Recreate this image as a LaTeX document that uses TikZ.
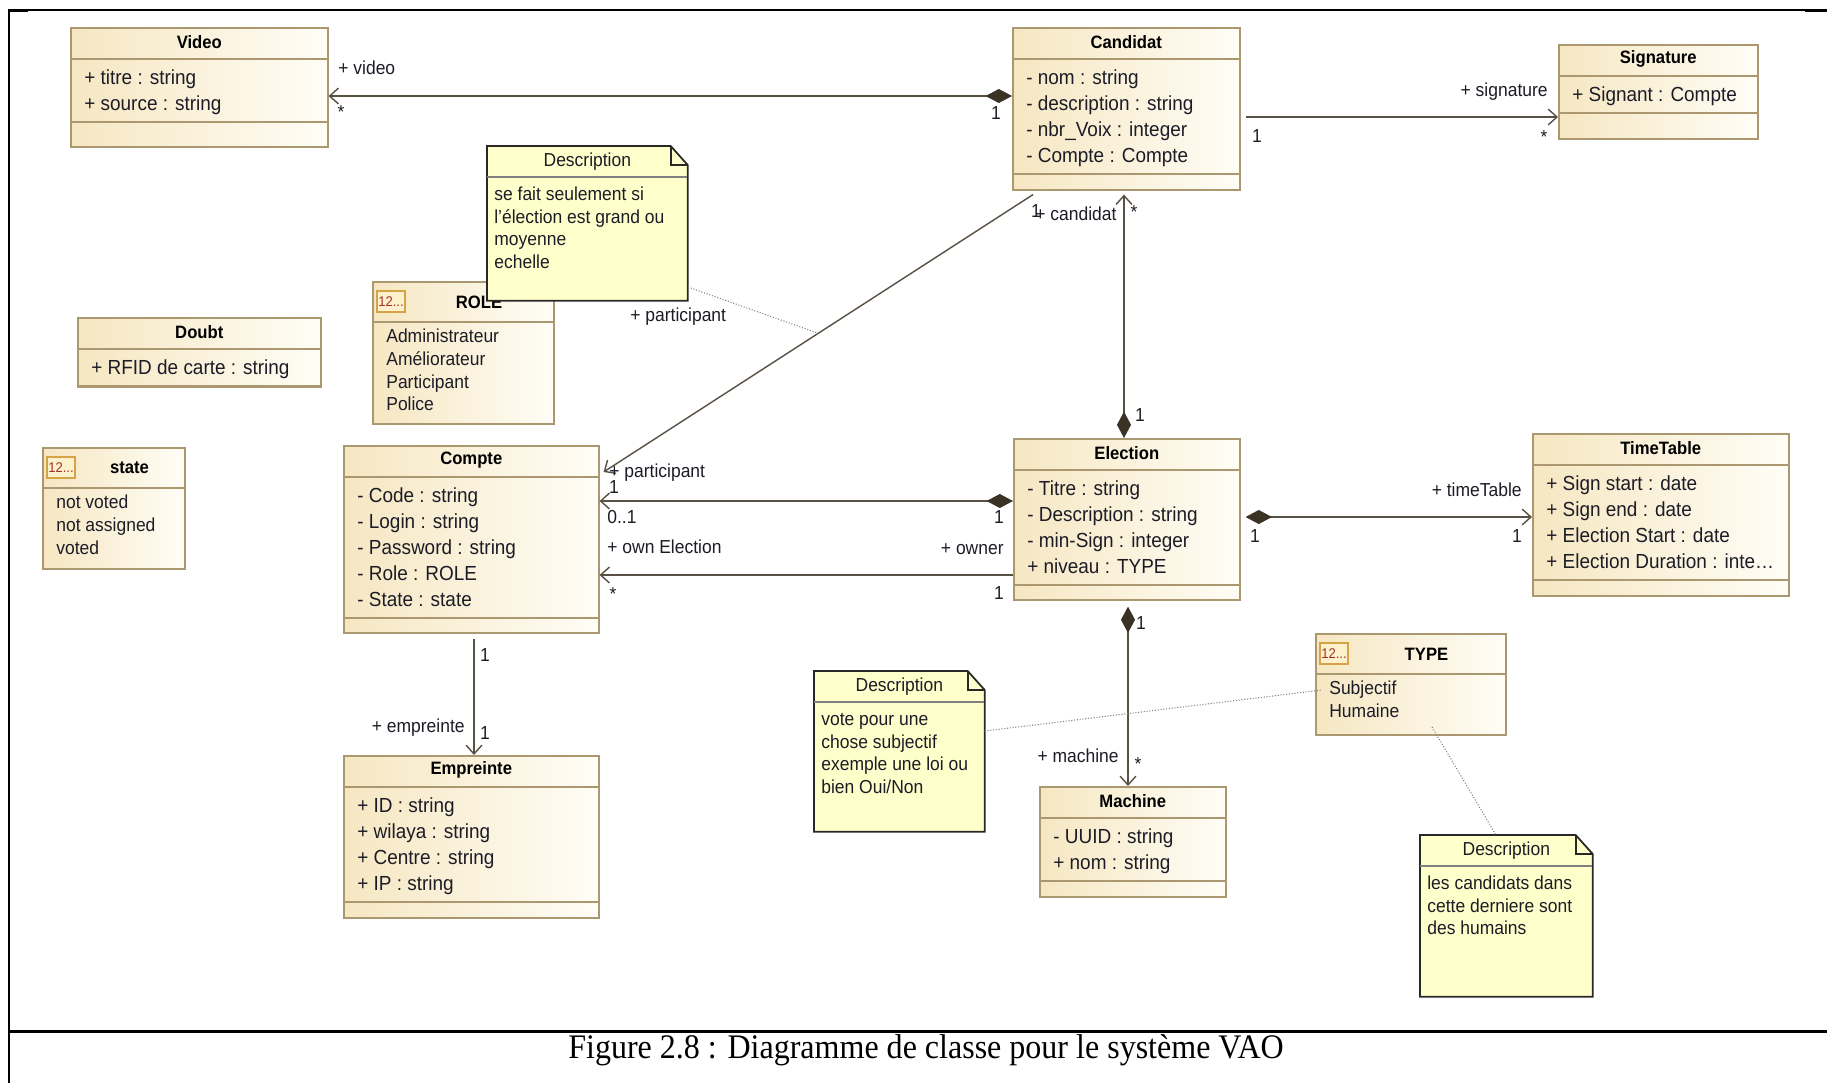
\documentclass[tikz,border=0pt]{standalone}
\usepackage{fontspec}
\setmainfont[FakeStretch=0.93]{Liberation Sans}
\newfontfamily\captionfont[FakeStretch=0.93]{Liberation Serif}
\usetikzlibrary{arrows.meta,calc,shadows}

\definecolor{classleft}{RGB}{246,231,194}
\definecolor{classright}{RGB}{255,253,246}
\definecolor{classborder}{RGB}{172,152,112}
\definecolor{notefill}{RGB}{255,255,204}
\definecolor{noteborder}{RGB}{40,40,40}
\definecolor{linkcolor}{RGB}{88,80,66}
\definecolor{diamondcolor}{RGB}{58,50,35}
\definecolor{textcolor}{RGB}{28,28,38}
\definecolor{iconborder}{RGB}{214,164,70}
\definecolor{iconfill}{RGB}{253,240,205}
\definecolor{icontext}{RGB}{160,50,40}

\newcommand{\umlclass}[8]{%
  \node[classbox, boxsize={#4}{#5}] (#1) at (#2,#3) {};
  \draw[classline] ($(#1.north west)+(0,32)$) -- ++(#4,0);
  \draw[classline] ($(#1.north west)+(0,43+26*#7)$) -- ++(#4,0);
  \node[classtitle] (#1-title) at ($(#1.north)+(0,15)$) {#6};
  \foreach \attr [count=\i from 0] in {#8}
    \node[attr] (#1-attr\i) at ($(#1.north west)+(14,53+25.8*\i)$) {\attr};
}
\newcommand{\umlenum}[7]{%
  \node[classbox, boxsize={#4}{#5}] (#1) at (#2,#3) {};
  \draw[classline] ($(#1.north west)+(0,41)$) -- ++(#4,0);
  \node[enumicon] (#1-icon) at ($(#1.north west)+(19,20.5)$) {12...};
  \node[classtitle] (#1-title) at ($(#1.north west)+({(33+#4)/2},21)$) {#6};
  \foreach \lit [count=\i from 0] in {#7}
    \node[literal] (#1-lit\i) at ($(#1.north west)+(14,57+22.6*\i)$) {\lit};
}
\newcommand{\umlnote}[6]{%
  \node[notebox, boxsize={#4}{#5}] (#1) at (#2,#3) {};
  \filldraw[noteline] (#1.north west) -- ($(#1.north east)+(-17,0)$) -- ($(#1.north east)+(0,19)$)
    -- (#1.south east) -- (#1.south west) -- cycle;
  \draw[noteline, fill=none] ($(#1.north east)+(-17,0)$) |- ($(#1.north east)+(0,19)$);
  \draw[notediv] ($(#1.north west)+(0,31)$) -- ++(#4,0);
  \node[notetext, anchor=center] (#1-title) at ($(#1.north)+(0,16)$) {Description};
  \foreach \ln [count=\i from 0] in {#6}
    \node[notetext] (#1-line\i) at ($(#1.north west)+(7,50+22.5*\i)$) {\ln};
}

\begin{document}
\begin{tikzpicture}[x=0.02cm, y=-0.02cm,
    boxsize/.style 2 args={minimum width=#1*0.02cm, minimum height=#2*0.02cm},
    classbox/.style={anchor=north west, inner sep=0pt, draw=classborder, line width=0.9pt,
      left color=classleft, right color=classright,
      drop shadow={shadow xshift=0.9pt, shadow yshift=-0.9pt, opacity=0.25}},
    classline/.style={draw=classborder, line width=0.9pt},
    classtitle/.style={inner sep=0pt, font=\bfseries\fontsize{10.2}{12}\selectfont, text=black},
    attr/.style={anchor=west, inner sep=0pt, text height=8pt, text depth=2.4pt,
      font=\fontsize{11.6}{13}\selectfont, text=textcolor},
    literal/.style={attr, font=\fontsize{10.7}{12}\selectfont},
    enumicon/.style={draw=iconborder, fill=iconfill, line width=0.6pt, inner sep=0pt,
      minimum width=28*0.02cm, minimum height=21*0.02cm,
      font=\fontsize{8}{9}\selectfont, text=icontext},
    notebox/.style={anchor=north west, inner sep=0pt},
    noteline/.style={draw=noteborder, line width=1pt, fill=notefill},
    notediv/.style={draw=gray, line width=0.6pt},
    notetext/.style={attr, font=\fontsize{10.7}{12}\selectfont},
    lbl/.style={inner sep=0pt, text height=7.5pt, text depth=2pt,
      font=\fontsize{10.7}{12}\selectfont, text=textcolor},
    assoc/.style={draw=linkcolor, line width=0.8pt, -{Straight Barb[length=5pt,width=9pt]}},
    comp/.style={draw=linkcolor, line width=0.8pt,
      {Diamond[length=15pt,width=8pt,color=diamondcolor,fill=diamondcolor]}-{Straight Barb[length=5pt,width=9pt]}},
    notelink/.style={draw=gray, densely dotted, line width=0.6pt}
  ]
  \useasboundingbox (0,0) rectangle (1827,1083);
  \draw[line width=0.9pt] (9,1083) -- (9,10) -- (1827,10);
  \draw[line width=1.7pt] (9,10) -- (28,10);
  \draw[line width=1.7pt] (1805,10) -- (1827,10);
  \draw[line width=1.7pt] (9,1031) -- (1827,1031);
  \node[font=\captionfont\fontsize{19.6}{22}\selectfont] (caption) at (926,1050)
    {Figure 2.8 : Diagramme de classe pour le système VAO};

  \umlclass{video}{70}{27}{257}{119}{Video}{2}{+ titre : string, + source : string}
  \umlclass{candidat}{1012}{27}{227}{162}{Candidat}{4}{- nom : string, - description : string, - nbr\_Voix : integer, - Compte : Compte}
  \umlclass{signature}{1558}{44}{199}{94}{Signature}{1}{+ Signant : Compte}
  \umlclass{doubt}{77}{317}{243}{69}{Doubt}{1}{+ RFID de carte : string}
  \umlclass{compte}{343}{445}{255}{187}{Compte}{5}{- Code : string, - Login : string, - Password : string, - Role : ROLE, - State : state}
  \umlclass{empreinte}{343}{755}{255}{162}{Empreinte}{4}{+ ID : string, + wilaya : string, + Centre : string, + IP : string}
  \umlclass{election}{1013}{438}{226}{161}{Election}{4}{- Titre : string, - Description : string, - min-Sign : integer, + niveau : TYPE}
  \umlclass{machine}{1039}{786}{186}{110}{Machine}{2}{- UUID : string, + nom : string}
  \umlclass{timetable}{1532}{433}{256}{162}{TimeTable}{4}{+ Sign start : date, + Sign end : date, + Election Start : date, + Election Duration : inte\ldots}
  \umlenum{role}{372}{281}{181}{142}{ROLE}{Administrateur, Améliorateur, Participant, Police}
  \umlenum{state}{42}{447}{142}{121}{state}{not voted, not assigned, voted}
  \umlenum{type}{1315}{633}{190}{101}{TYPE}{Subjectif, Humaine}

  \draw[comp] ($(candidat.north west)+(0,69)$) -- ($(video.north east)+(0,69)$);
  \draw[assoc] ($(candidat.north east)+(5,90)$) -- ($(signature.north west)+(0,73)$);
  \draw[comp] ($(election.north west)+(111,0)$) -- ($(candidat.south west)+(112,4)$);
  \draw[assoc] ($(candidat.south west)+(21,4)$) -- coordinate[pos=0.5] (diagmid) ($(compte.north east)+(4,27)$);
  \draw[comp] ($(election.north west)+(0,63)$) -- ($(compte.north east)+(0,56)$);
  \draw[assoc] ($(election.north west)+(0,137)$) -- ($(compte.north east)+(0,130)$);
  \draw[comp] ($(election.north east)+(5,79)$) -- ($(timetable.north west)+(0,84)$);
  \draw[comp] ($(election.south west)+(115,6)$) -- ($(machine.north west)+(89,0)$);
  \draw[assoc] ($(compte.south west)+(131,5)$) -- ($(empreinte.north west)+(131,0)$);

  \node[lbl, anchor=west] (video-role) at (338,70) {+ video};
  \node[lbl] (video-mult) at (341,114) {*};
  \node[lbl] (video-one) at (996,115) {1};
  \node[lbl] (sign-one) at (1257,138) {1};
  \node[lbl, anchor=east] (sign-role) at (1548,92) {+ signature};
  \node[lbl] (sign-mult) at (1544,139) {*};
  \node[lbl, anchor=west] (part-role) at (630,317) {+ participant};
  \node[lbl] (part-one) at (1036,213) {1};
  \node[lbl, anchor=west] (cand-role) at (1035,216) {+ candidat};
  \node[lbl] (cand-mult) at (1134,214) {*};
  \node[lbl] (cand-one) at (1140,417) {1};
  \node[lbl, anchor=west] (compte-role) at (609,473) {+ participant};
  \node[lbl] (compte-one) at (614,489) {1};
  \node[lbl, anchor=west] (compte-opt) at (607,519) {0..1};
  \node[lbl, anchor=west] (own-role) at (607,549) {+ own Election};
  \node[lbl] (own-mult) at (613,596) {*};
  \node[lbl] (elec-one) at (999,519) {1};
  \node[lbl, anchor=east] (owner-role) at (1004,550) {+ owner};
  \node[lbl] (owner-one) at (999,595) {1};
  \node[lbl] (time-one) at (1255,538) {1};
  \node[lbl, anchor=east] (time-role) at (1522,492) {+ timeTable};
  \node[lbl] (time-mult) at (1517,538) {1};
  \node[lbl] (mach-one) at (1141,625) {1};
  \node[lbl, anchor=east] (mach-role) at (1119,758) {+ machine};
  \node[lbl] (mach-mult) at (1138,766) {*};
  \node[lbl] (emp-one) at (485,657) {1};
  \node[lbl, anchor=east] (emp-role) at (465,728) {+ empreinte};
  \node[lbl] (emp-mult) at (485,735) {1};

  \umlnote{descA}{487}{146}{200}{154}{se fait seulement si, l'élection est grand ou, moyenne, echelle}
  \umlnote{descB}{814}{671}{170}{160}{vote pour une, chose subjectif, exemple une loi ou, bien Oui/Non}
  \umlnote{descC}{1420}{835}{172}{161}{les candidats dans, cette derniere sont, des humains}

  \draw[notelink] ($(descA.north east)+(3,142)$) -- (diagmid);
  \draw[notelink] ($(descB.north east)+(0,60)$) -- ($(type.north west)+(7,57)$);
  \draw[notelink] ($(type.north west)+(117,94)$) -- ($(descC.north west)+(76,0)$);
\end{tikzpicture}
\end{document}
